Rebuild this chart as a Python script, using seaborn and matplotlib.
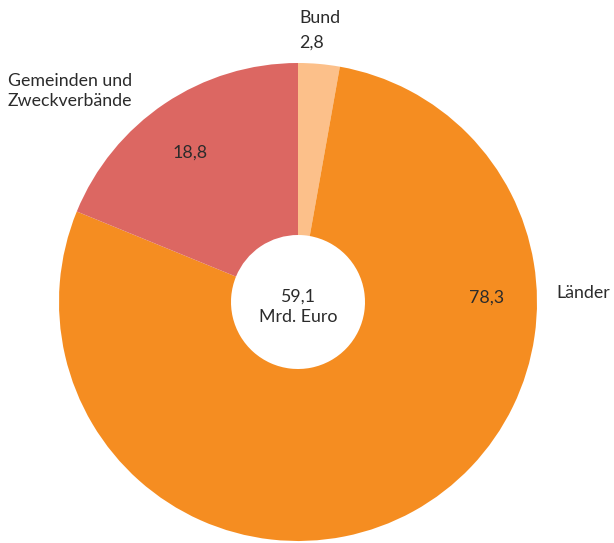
import matplotlib
matplotlib.use("Agg")
import matplotlib.pyplot as plt
import seaborn as sns

# ----------------------------------------------------------
# Data
# ----------------------------------------------------------

labels = ["Bund", "Länder", "Gemeinden und\nZweckverbände"]
values = [2.8, 78.3, 18.8]
colors = ["#FCC08A", "#F58D21", "#DC6762"]
total_text = "59,1\nMrd. Euro"

# ----------------------------------------------------------
# Style
# ----------------------------------------------------------

sns.set_theme(style="white")
plt.rcParams["font.family"] = ["Lato", "DejaVu Sans"]

W, H = 614, 543
fig = plt.figure(figsize=(W / 100, H / 100), dpi=100)
ax = fig.add_axes([0, 0, 1, 1])

# pie centre and radius in pixels (y measured from bottom)
cx, cy, r = 298, H - 302, 239

wedges, _ = ax.pie(
    values,
    colors=colors,
    startangle=90,
    counterclock=False,
    center=(cx, cy),
    radius=r,
    wedgeprops=dict(width=r - 67, linewidth=0),
)

# pie() resets the limits, so set them afterwards
ax.set_xlim(0, W)
ax.set_ylim(0, H)
ax.set_aspect("equal")
ax.axis("off")

fmt = lambda v: f"{v:.1f}".replace(".", ",")
txt = dict(color="#2b2b2b", fontsize=12.8)

# Bund
ax.text(299, H - 18, labels[0], ha="left", va="center", **txt)
ax.text(299, H - 43, fmt(values[0]), ha="left", va="center", **txt)

# Länder
ax.text(487, H - 298, fmt(values[1]), ha="center", va="center", **txt)
ax.text(556, H - 293, labels[1], ha="left", va="center", **txt)

# Gemeinden
ax.text(8, H - 91, labels[2], ha="left", va="center", linespacing=1.3, **txt)
ax.text(190, H - 153, fmt(values[2]), ha="center", va="center", **txt)

# centre
ax.text(cx, cy - 5, total_text, ha="center", va="center", linespacing=1.3, **txt)

fig.savefig("out.png", dpi=100)
